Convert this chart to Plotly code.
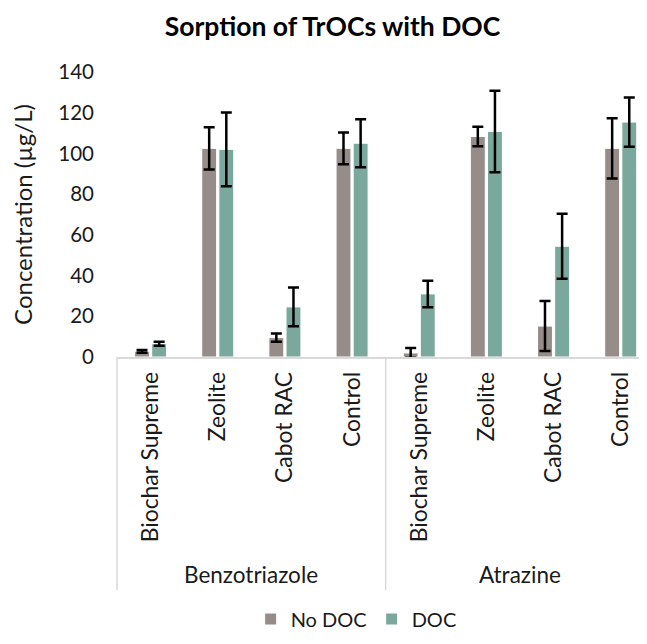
import plotly.graph_objects as go

# ---- data ----
compounds = ["Benzotriazole", "Atrazine"]
materials = ["Biochar Supreme", "Zeolite", "Cabot RAC", "Control"]
no_doc = [2.8, 102.5, 9.5, 102.5, 2.0, 108.3, 15.2, 102.5]
no_doc_err = [0.7, 10.4, 2.0, 7.8, 2.4, 4.8, 12.3, 14.8]
doc = [6.5, 102.0, 24.6, 105.0, 31.0, 110.8, 54.4, 115.4]
doc_err = [1.0, 18.1, 9.5, 11.8, 6.5, 20.0, 16.0, 12.1]

FONT = "Lato"
C_NODOC = "#968C8A"
C_DOC = "#7BA89C"
TXT = "#1a1a1a"

n_mat = len(materials)
xs = list(range(len(compounds) * n_mat))
ticktext = materials * len(compounds)

fig = go.Figure()
fig.add_trace(go.Bar(
    x=xs, y=no_doc, name="No DOC", marker=dict(color=C_NODOC, line=dict(color="white", width=1)),
    error_y=dict(type="data", array=no_doc_err, color="black", thickness=2.5, width=5.5),
))
fig.add_trace(go.Bar(
    x=xs, y=doc, name="DOC", marker=dict(color=C_DOC, line=dict(color="white", width=1)),
    error_y=dict(type="data", array=doc_err, color="black", thickness=2.5, width=5.5),
))

OFF = 8  # page body margin
W, H = 647 - 2 * OFF, 644 - 2 * OFF
L = 116.7 - OFF
T = 71.7 - OFF
AX = 356.7 - OFF
B = H - AX
plot_h = H - T - B
plot_w = W - L
cat_px = 67.2
xmax = -0.5 + plot_w / cat_px

def py(pix_screen):
    return (AX - (pix_screen - OFF)) / plot_h

shapes = [dict(type="line", xref="paper", x0=0, x1=0, yref="paper", y0=0, y1=py(590),
               line=dict(color="#D9D9D9", width=1.5))]
for g in range(1, len(compounds)):
    xb = g * n_mat - 0.5
    shapes.append(dict(type="line", xref="x", x0=xb, x1=xb, yref="paper", y0=0, y1=py(590),
                       line=dict(color="#D9D9D9", width=1.5)))
annotations = []
for g, c in enumerate(compounds):
    annotations.append(dict(text=c, x=g * n_mat + (n_mat - 1) / 2, xref="x", y=py(574), yref="paper",
                            showarrow=False, xanchor="center", yanchor="middle",
                            font=dict(family=FONT, size=22.5, color=TXT)))

fig.update_layout(
    width=W, height=H,
    margin=dict(l=L, r=0, t=T, b=B, autoexpand=False),
    paper_bgcolor="white", plot_bgcolor="white",
    barmode="group", bargap=0.49, bargroupgap=0.13,
    title=dict(text="<b>Sorption of TrOCs with DOC</b>", x=(332.5 - OFF) / W, xref="container",
               xanchor="center", y=1 - 9 / H, yref="container", yanchor="top",
               font=dict(family=FONT, size=26.5, color="black")),
    font=dict(family=FONT, size=20, color=TXT),
    xaxis=dict(range=[-0.5, xmax], tickmode="array", tickvals=xs, ticktext=ticktext,
               tickangle=-90, showline=True, linecolor="#D9D9D9", linewidth=1.5,
               showgrid=False, ticks="", ticklabelstandoff=4, zeroline=False, automargin=False,
               tickfont=dict(family=FONT, size=22.9, color=TXT)),
    yaxis=dict(range=[0, 140], dtick=20, showgrid=False, zeroline=False, showline=False,
               ticks="", ticklabelstandoff=22, automargin=False,
               tickfont=dict(family=FONT, size=20.5, color=TXT),
               title=dict(text="Concentration (µg/L)", standoff=24,
                          font=dict(family=FONT, size=24, color=TXT))),
    legend=dict(orientation="h", x=(348 - L) / plot_w, xanchor="center",
                y=1 - (619 - OFF) / H, yref="container", yanchor="middle",
                font=dict(family=FONT, size=20, color=TXT), itemwidth=30,
                traceorder="normal"),
    shapes=shapes, annotations=annotations,
)

fig.write_html("out.html")
